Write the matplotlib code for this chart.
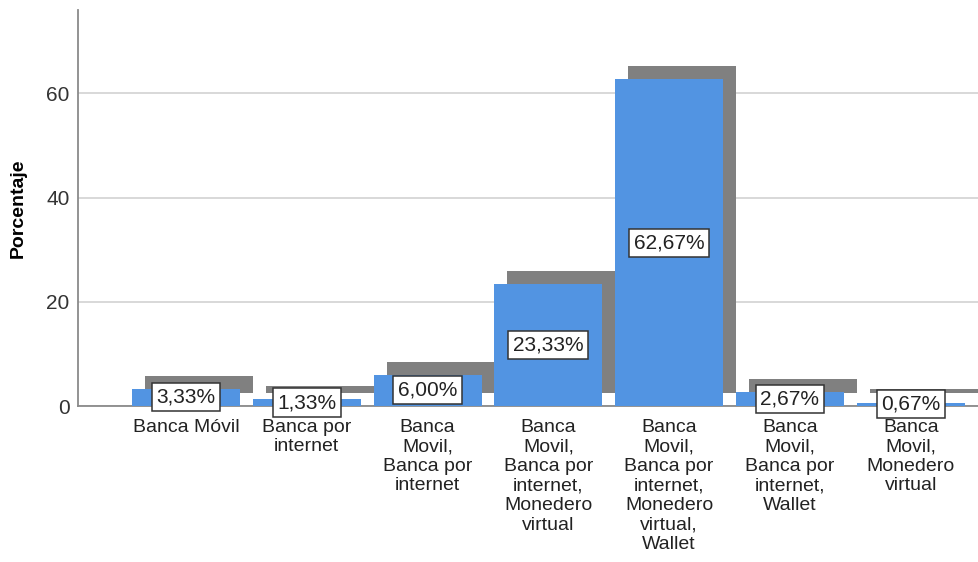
import numpy as np
import matplotlib.pyplot as plt

plt.rcParams['font.family'] = ['Liberation Sans', 'DejaVu Sans']

# Categories and their percentages
categorias = [
    "Banca Móvil",
    "Banca por\ninternet",
    "Banca\nMovil,\nBanca por\ninternet",
    "Banca\nMovil,\nBanca por\ninternet,\nMonedero\nvirtual",
    "Banca\nMovil,\nBanca por\ninternet,\nMonedero\nvirtual,\nWallet",
    "Banca\nMovil,\nBanca por\ninternet,\nWallet",
    "Banca\nMovil,\nMonedero\nvirtual",
]
porcentajes = [3.33, 1.33, 6.00, 23.33, 62.67, 2.67, 0.67]
y_ticks = [0, 20, 40, 60]

azul = "#5294e2"
sombra = "#808080"

fig = plt.figure(figsize=(9.79, 5.62), dpi=100)
ax = fig.add_axes([78 / 979, 156 / 562, 1 - 78 / 979, 396 / 562])

x = np.arange(len(categorias))
ancho = 0.894

# drop shadow behind each bar (shifted right and up)
ax.bar(x + 0.108, porcentajes, width=ancho, bottom=2.5, color=sombra, zorder=2)
ax.bar(x, porcentajes, width=ancho, color=azul, zorder=3)

for xi, v in zip(x, porcentajes):
    ax.text(xi, v / 2, f"{v:.2f}%".replace(".", ","), ha="center", va="center",
            fontsize=15, color="#222222", zorder=6, clip_on=False,
            bbox=dict(boxstyle="square,pad=0.22", fc="white", ec="#333333", lw=1.1))

ax.set_xlim(-0.894, 6.565)
ax.set_ylim(0, 76)
ax.set_yticks(y_ticks)
ax.set_yticklabels([str(t) for t in y_ticks], fontsize=15, color="#333333")
ax.set_xticks(x)
ax.set_xticklabels(categorias, fontsize=14, color="#222222", linespacing=1.2)
ax.tick_params(axis="both", length=0)
ax.tick_params(axis="y", pad=6)
ax.tick_params(axis="x", pad=9)

ax.set_axisbelow(True)
ax.grid(axis="y", color="#d2d2d2", lw=1.2)
ax.spines["top"].set_visible(False)
ax.spines["right"].set_visible(False)
for s in ("left", "bottom"):
    ax.spines[s].set_color("#8a8a8a")
    ax.spines[s].set_linewidth(1.3)

ax.set_ylabel("Porcentaje", fontsize=14, fontweight="bold", labelpad=14)

fig.savefig("out.png", dpi=100)
